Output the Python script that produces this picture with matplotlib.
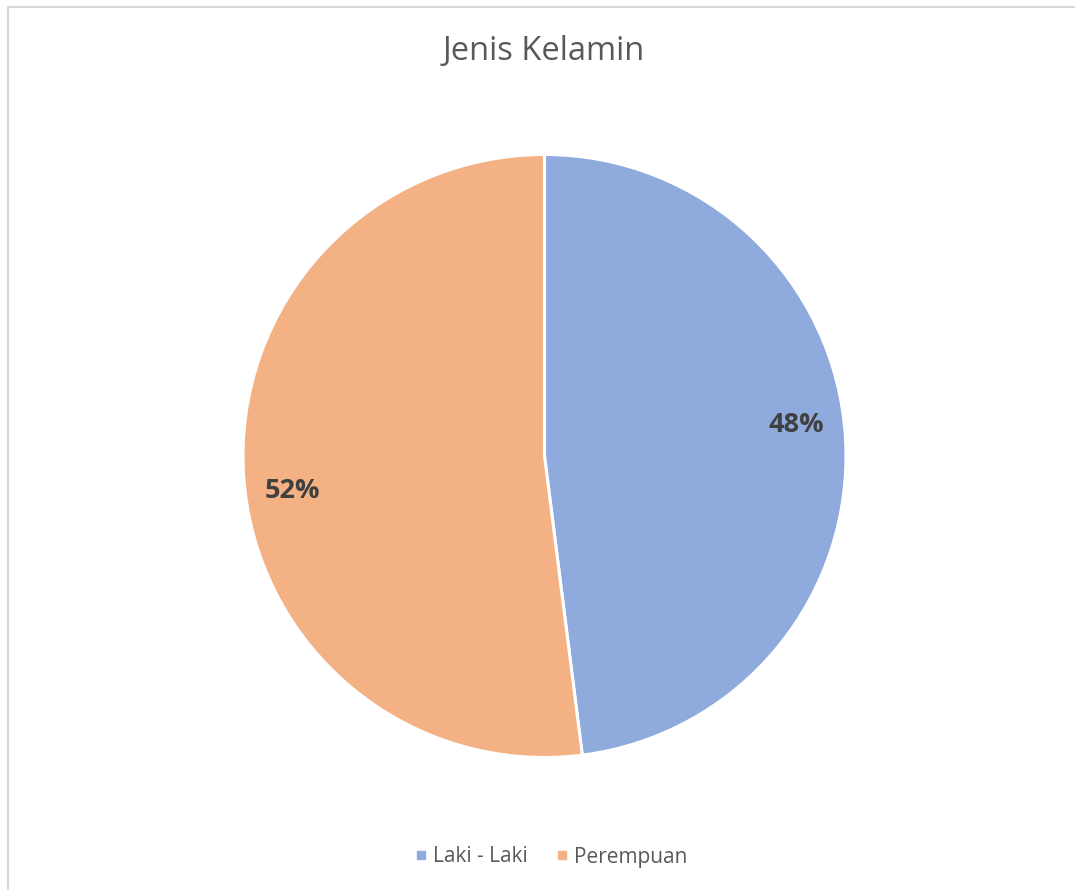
import matplotlib.pyplot as plt
from matplotlib.patches import Rectangle
from matplotlib.lines import Line2D

labels = ['Laki - Laki', 'Perempuan']
values = [48, 52]
colors = ['#8FAADC', '#F4B183']
title = 'Jenis Kelamin'

plt.rcParams['font.family'] = ['Open Sans', 'DejaVu Sans']

fig = plt.figure(figsize=(10.75, 8.9), dpi=100)
W, H = 1075, 890

# chart-area border (only top and left visible in the crop)
fig.patches.append(Rectangle((8 / W, -0.1), 1.2, 1 - 7 / H + 0.1, transform=fig.transFigure,
                             fill=False, edgecolor='#D9D9D9', linewidth=1.5))

cx, cy, r = 544.5, 456, 301.5
ax = fig.add_axes([(cx - r) / W, 1 - (cy + r) / H, 2 * r / W, 2 * r / H])
wedges, texts, autotexts = ax.pie(values, colors=colors, startangle=90, counterclock=False,
                                  radius=1, autopct='%1.0f%%', pctdistance=0.84,
                                  wedgeprops=dict(edgecolor='white', linewidth=2.2),
                                  textprops=dict(fontsize=19.5, fontweight='bold', color='#404040'))
ax.set_xlim(-1, 1)
ax.set_ylim(-1, 1)
ax.set_aspect('equal')
ax.axis('off')

# Excel-style label placement
autotexts[0].set_position((0.834, 0.103))
autotexts[1].set_position((-0.837, -0.116))

fig.text(544 / W, 1 - 52 / H, title, ha='center', va='center', fontsize=23.5, color='#595959')

handles = [Line2D([], [], marker='s', linestyle='none', markersize=5.8,
                  markerfacecolor=c, markeredgecolor=c) for c in colors]
fig.legend(handles, labels, loc='center', bbox_to_anchor=(550 / W, 1 - 857 / H),
           ncol=2, frameon=False, fontsize=15, handlelength=0.8, handletextpad=0.22,
           columnspacing=1.2, labelcolor='#595959')

fig.savefig('out.png', dpi=100)
